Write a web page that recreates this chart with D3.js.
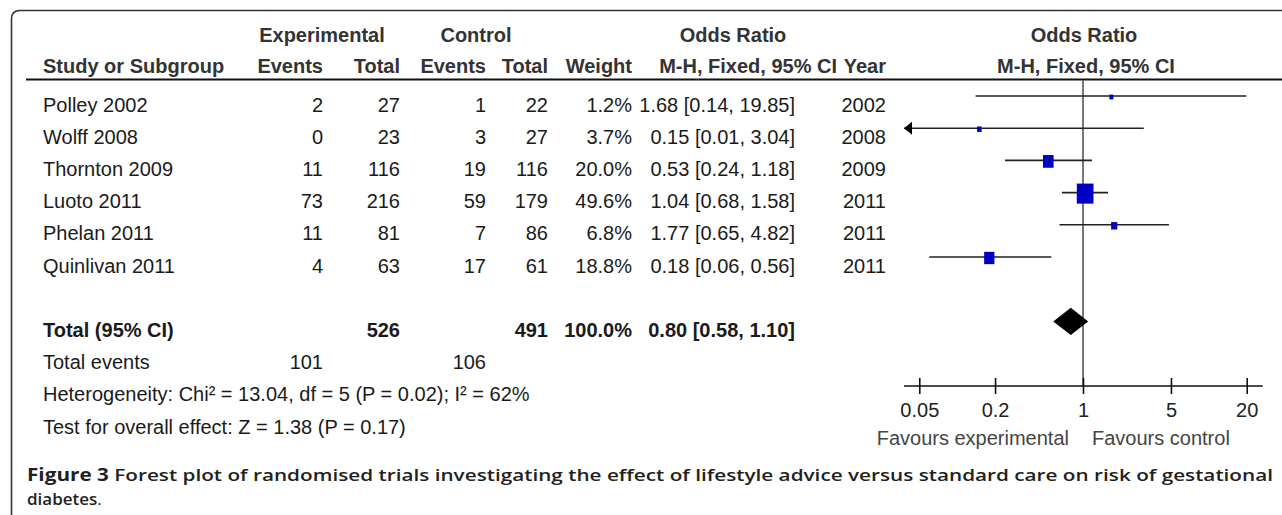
<!DOCTYPE html>
<html>
<head>
<meta charset="utf-8">
<script src="https://cdn.jsdelivr.net/npm/d3@7"></script>
<style>
  body { margin: 0; background: #fff; }
  text { font-family: "Liberation Sans", Arial, sans-serif; }
</style>
</head>
<body>
<div id="chart"></div>
<script>
// study data
const studies = ["Polley 2002", "Wolff 2008", "Thornton 2009", "Luoto 2011", "Phelan 2011", "Quinlivan 2011"];
const expEvents = [2, 0, 11, 73, 11, 4];
const expTotal = [27, 23, 116, 216, 81, 63];
const ctrlEvents = [1, 3, 19, 59, 7, 17];
const ctrlTotal = [22, 27, 116, 179, 86, 61];
const weights = [1.2, 3.7, 20.0, 49.6, 6.8, 18.8];
const oddsRatio = [1.68, 0.15, 0.53, 1.04, 1.77, 0.18];
const ciLow = [0.14, 0.01, 0.24, 0.68, 0.65, 0.06];
const ciHigh = [19.85, 3.04, 1.18, 1.58, 4.82, 0.56];
const years = [2002, 2008, 2009, 2011, 2011, 2011];

// pooled result
const totalLabel = "Total (95% CI)";
const totalN = [526, 491];
const totalWeight = 100.0;
const pooled = [0.80, 0.58, 1.10]; // OR, low, high
const totalEvents = [101, 106];
const heterogeneity = "Heterogeneity: Chi² = 13.04, df = 5 (P = 0.02); I² = 62%";
const overallEffect = "Test for overall effect: Z = 1.38 (P = 0.17)";

// axis
const axisTicks = [0.05, 0.2, 1, 5, 20];
const favoursLabels = ["Favours experimental", "Favours control"];

const caption1 = ["Figure 3", " Forest plot of randomised trials investigating the effect of lifestyle advice versus standard care on risk of gestational"];
const caption2 = "diabetes";

const W = 1282, H = 515;
const FS = 20;

const svg = d3.select("#chart").append("svg")
  .attr("width", W)
  .attr("height", H);

// frame (rounded top-left corner, open at right and bottom)
svg.append("path")
  .attr("d", `M11.5,${H} L11.5,19 Q11.5,10.5 20,10.5 L${W},10.5`)
  .attr("fill", "none")
  .attr("stroke", "#333")
  .attr("stroke-width", 1.6);

// column right edges
const col = { expE: 323, expT: 400, ctlE: 486, ctlT: 548, wt: 632, or: 795, yr: 886 };

// row baselines
const rowY = i => 111.5 + 32.2 * i;
const markOffset = -15.5;

// header
const hdr = svg.append("g").attr("fill", "#333").style("font-weight", "bold").style("font-size", FS + "px");
const hdrRows = [
  { t: "Experimental", x: 322, y: 41.5, a: "middle" },
  { t: "Control", x: 476, y: 41.5, a: "middle" },
  { t: "Odds Ratio", x: 733, y: 41.5, a: "middle" },
  { t: "Odds Ratio", x: 1084, y: 41.5, a: "middle" },
  { t: "Study or Subgroup", x: 43, y: 73, a: "start" },
  { t: "Events", x: col.expE, y: 73, a: "end" },
  { t: "Total", x: col.expT, y: 73, a: "end" },
  { t: "Events", x: col.ctlE, y: 73, a: "end" },
  { t: "Total", x: col.ctlT, y: 73, a: "end" },
  { t: "Weight", x: col.wt, y: 73, a: "end" },
  { t: "M-H, Fixed, 95% CI", x: 837, y: 73, a: "end" },
  { t: "Year", x: col.yr, y: 73, a: "end" },
  { t: "M-H, Fixed, 95% CI", x: 1086, y: 73, a: "middle" }
];
hdr.selectAll("text").data(hdrRows).join("text")
  .attr("x", d => d.x).attr("y", d => d.y)
  .attr("text-anchor", d => d.a)
  .text(d => d.t);

svg.append("line")
  .attr("x1", 26).attr("x2", W)
  .attr("y1", 79.5).attr("y2", 79.5)
  .attr("stroke", "#111").attr("stroke-width", 2);

// study rows
const fmtW = d3.format(".1f");
const fmtOR = (o, l, h) => `${o.toFixed(2)} [${l.toFixed(2)}, ${h.toFixed(2)}]`;

const body = svg.append("g").attr("fill", "#1a1a1a").style("font-size", FS + "px");
studies.forEach((s, i) => {
  const y = rowY(i);
  const cells = [
    [s, 43, "start"],
    [expEvents[i], col.expE, "end"],
    [expTotal[i], col.expT, "end"],
    [ctrlEvents[i], col.ctlE, "end"],
    [ctrlTotal[i], col.ctlT, "end"],
    [fmtW(weights[i]) + "%", col.wt, "end"],
    [fmtOR(oddsRatio[i], ciLow[i], ciHigh[i]), col.or, "end"],
    [years[i], col.yr, "end"]
  ];
  cells.forEach(c => body.append("text").attr("x", c[1]).attr("y", y).attr("text-anchor", c[2]).text(c[0]));
});

// total row
const yTot = rowY(7);
const tot = svg.append("g").attr("fill", "#1a1a1a").style("font-weight", "bold").style("font-size", FS + "px");
[[totalLabel, 43, "start"], [totalN[0], col.expT, "end"], [totalN[1], col.ctlT, "end"],
 [fmtW(totalWeight) + "%", col.wt, "end"], [fmtOR(pooled[0], pooled[1], pooled[2]), col.or, "end"]]
  .forEach(c => tot.append("text").attr("x", c[1]).attr("y", yTot).attr("text-anchor", c[2]).text(c[0]));

const foot = svg.append("g").attr("fill", "#1a1a1a").style("font-size", FS + "px");
foot.append("text").attr("x", 43).attr("y", rowY(8)).text("Total events");
foot.append("text").attr("x", col.expE).attr("y", rowY(8)).attr("text-anchor", "end").text(totalEvents[0]);
foot.append("text").attr("x", col.ctlE).attr("y", rowY(8)).attr("text-anchor", "end").text(totalEvents[1]);
foot.append("text").attr("x", 43).attr("y", rowY(9)).text(heterogeneity);
foot.append("text").attr("x", 43).attr("y", rowY(10)).text(overallEffect);

// forest plot
const x = d3.scaleLog().domain([0.05, 20]).range([919.3, 1246.7]);
const xMin = x(0.05) - 15.3, xMax = x(20) + 16;
const axisY = 386;

svg.append("line")
  .attr("x1", x(1)).attr("x2", x(1))
  .attr("y1", 80).attr("y2", axisY)
  .attr("stroke", "#555").attr("stroke-width", 1.6);

const size = d3.scaleSqrt().domain([0, d3.max(weights)]).range([0, 16.7]);

const forest = svg.append("g");
studies.forEach((s, i) => {
  const y = rowY(i) + markOffset;
  const x1 = Math.max(x(ciLow[i]), xMin);
  const x2 = Math.min(x(ciHigh[i]), xMax);
  forest.append("line")
    .attr("x1", x1).attr("x2", x2)
    .attr("y1", y).attr("y2", y)
    .attr("stroke", "#222").attr("stroke-width", 1.6);
  if (x(ciLow[i]) < xMin) {
    forest.append("path")
      .attr("d", `M${xMin},${y} L${xMin + 8},${y - 6.5} L${xMin + 8},${y + 6.5} Z`)
      .attr("fill", "#000");
  }
  const w = Math.max(size(weights[i]), 4);
  const h = Math.max(w * 1.2, 4);
  forest.append("rect")
    .attr("x", x(oddsRatio[i]) - w / 2)
    .attr("y", y - h / 2 + 1)
    .attr("width", w).attr("height", h)
    .attr("fill", "#0000c4");
});

// diamond
const yd = yTot + markOffset;
forest.append("path")
  .attr("d", `M${x(pooled[1])},${yd} L${x(pooled[0])},${yd - 13.7} L${x(pooled[2])},${yd} L${x(pooled[0])},${yd + 13.7} Z`)
  .attr("fill", "#000");

// axis
const axis = svg.append("g")
  .attr("transform", `translate(0,${axisY})`)
  .call(d3.axisBottom(x).tickValues(axisTicks).tickFormat(d => String(d)).tickSize(8));
axis.select(".domain").remove();
axis.selectAll(".tick line").attr("y1", -8).attr("y2", 8).attr("stroke", "#111").attr("stroke-width", 1.6);
axis.selectAll(".tick text")
  .attr("y", 31).attr("dy", 0)
  .attr("fill", "#222")
  .style("font-size", FS + "px")
  .style("font-family", "'Liberation Sans', Arial, sans-serif");
axis.append("line")
  .attr("x1", xMin).attr("x2", xMax)
  .attr("stroke", "#111").attr("stroke-width", 1.6);

const fav = svg.append("g").attr("fill", "#444").style("font-size", FS + "px");
fav.append("text").attr("x", x(1) - 14).attr("y", 445).attr("text-anchor", "end").text(favoursLabels[0]);
fav.append("text").attr("x", x(1) + 9).attr("y", 445).attr("text-anchor", "start").text(favoursLabels[1]);

// caption
const cap = svg.append("g").attr("fill", "#231f20").style("font-size", "17px");
const c1 = cap.append("text").attr("x", 27).attr("y", 481)
  .attr("textLength", 1246).attr("lengthAdjust", "spacingAndGlyphs")
  .style("font-family", "'Open Sans', 'Noto Sans', sans-serif");
c1.append("tspan").style("font-weight", 700).text(caption1[0]);
c1.append("tspan").style("font-weight", 600).text(caption1[1]);
const c2 = cap.append("text").attr("x", 27).attr("y", 505)
  .style("font-family", "'Open Sans', 'Noto Sans', sans-serif");
c2.append("tspan").style("font-weight", 600).text(caption2);
c2.append("tspan").style("font-weight", 400).text(".");
</script>
</body>
</html>
